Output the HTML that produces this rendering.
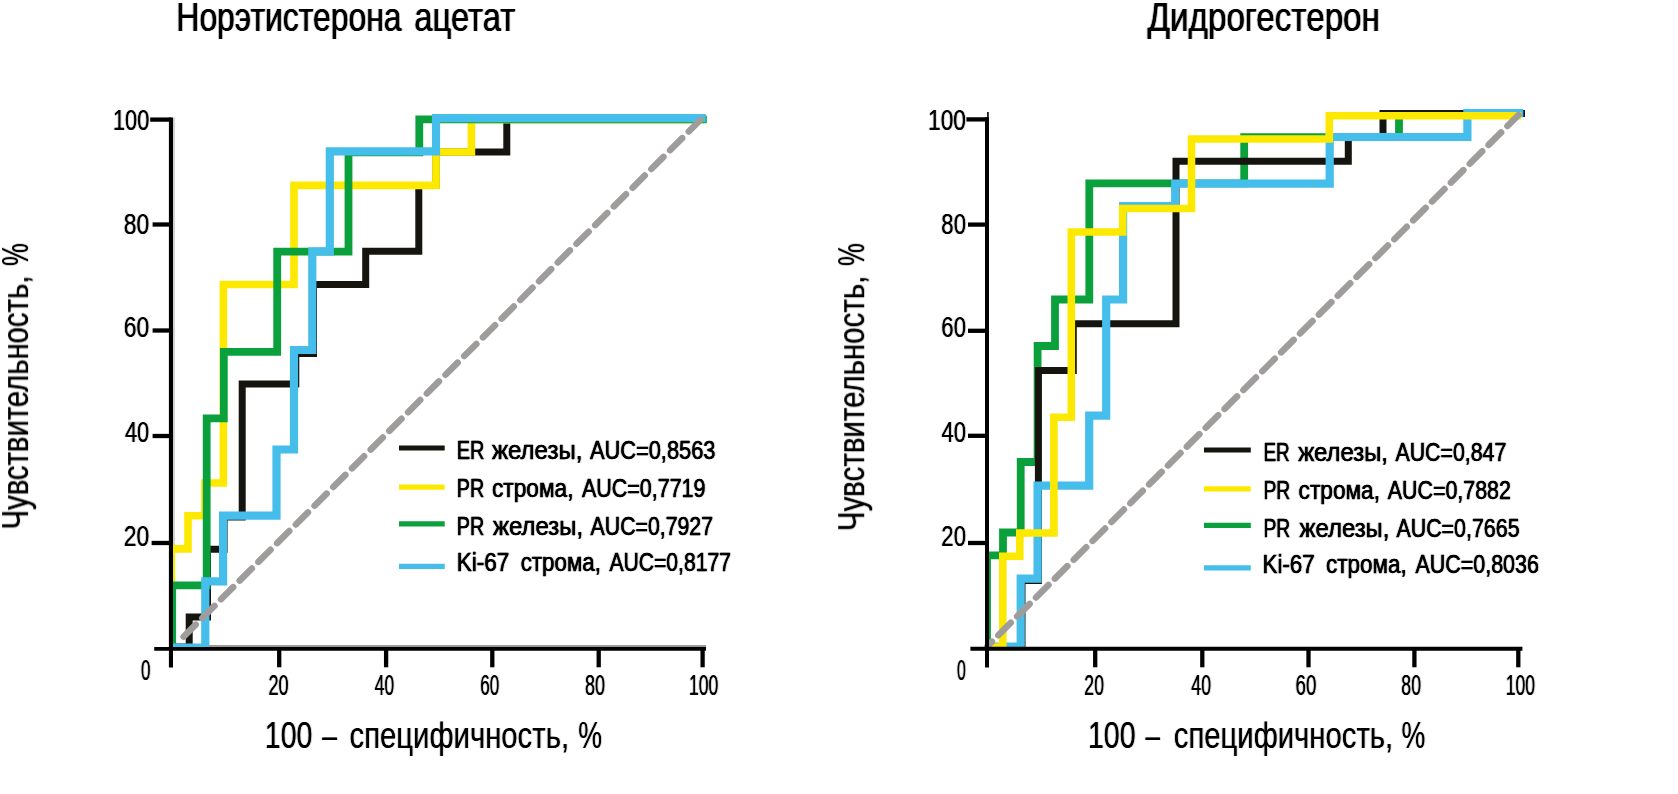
<!DOCTYPE html>
<html lang="ru"><head><meta charset="utf-8"><title>ROC</title>
<style>html,body{margin:0;padding:0;background:#fff}svg{display:block;will-change:transform}</style></head>
<body><svg width="1678" height="794" viewBox="0 0 1678 794">
<rect width="1678" height="794" fill="#fff"/>
<defs><filter id="fT" x="-25%" y="-20%" width="150%" height="140%"><feConvolveMatrix order="3 1" edgeMode="none" kernelMatrix="0.32 1 0.32" divisor="1" preserveAlpha="false"/></filter><filter id="fA" x="-25%" y="-20%" width="150%" height="140%"><feConvolveMatrix order="3 1" edgeMode="none" kernelMatrix="0.17 1 0.17" divisor="1" preserveAlpha="false"/></filter><filter id="fK" x="-25%" y="-20%" width="150%" height="140%"><feConvolveMatrix order="3 1" edgeMode="none" kernelMatrix="0.2 1 0.2" divisor="1" preserveAlpha="false"/></filter></defs>
<defs><clipPath id="cl"><rect x="171" y="100" width="560" height="549"/></clipPath><clipPath id="cr"><rect x="987" y="100" width="560" height="549"/></clipPath></defs>
<line x1="173" y1="645.95" x2="706" y2="645.95" stroke="#9c9a98" stroke-width="2.1" />
<line x1="174" y1="117.4" x2="174" y2="647" stroke="#d3d0d0" stroke-width="2.0" />
<g clip-path="url(#cl)">
<path d="M171.5,647 L189.2,647 L189.2,617 L207.5,617 L207.5,549.3 L224.1,549.3 L224.1,517 L242.2,517 L242.2,384 L295.8,384 L295.8,353.5 L313.5,353.5 L313.5,284.5 L365.7,284.5 L365.7,251.3 L418.8,251.3 L418.8,185.4 L436,185.4 L436,152 L506.8,152 L506.8,119 L704,119" fill="none" stroke="#15140f" stroke-width="7.0" stroke-linejoin="miter" />
<path d="M171.3,647 L171.3,548.9 L188,548.9 L188,515.7 L205,515.7 L205,483 L223.4,483 L223.4,284.5 L294,284.5 L294,185.4 L436,185.4 L436,152 L471.4,152 L471.4,119.8 L704,119.8" fill="none" stroke="#fde900" stroke-width="7.6" stroke-linejoin="miter" />
<path d="M172.2,647 L172.2,585.3 L206.7,585.3 L206.7,418.4 L223.8,418.4 L223.8,351.8 L277.2,351.8 L277.2,251.7 L348.5,251.7 L348.5,152.3 L419.3,152.3 L419.3,119.3 L706.8,119.3" fill="none" stroke="#0aa03c" stroke-width="7.8" stroke-linejoin="miter" />
<path d="M171.5,647.6 L205.3,647.6 L205.3,581.3 L223.1,581.3 L223.1,515.7 L276.5,515.7 L276.5,449.5 L294,449.5 L294,350 L312.3,350 L312.3,251.3 L329.8,251.3 L329.8,151.3 L436,151.3 L436,118.2 L705.7,118.2" fill="none" stroke="#45beeb" stroke-width="8.2" stroke-linejoin="miter" />
</g>
<line x1="178.6" y1="641.7" x2="700.5" y2="119.8" stroke="#9f9d9c" stroke-width="6.5" stroke-linecap="round" stroke-dasharray="17.16 9.30" stroke-dashoffset="19.42"/>
<line x1="170.95" y1="117.4" x2="170.95" y2="667.5" stroke="#000" stroke-width="4.1" />
<line x1="154.2" y1="648.85" x2="706" y2="648.85" stroke="#000" stroke-width="3.8" />
<line x1="150.2" y1="119.6" x2="171.1" y2="119.6" stroke="#000" stroke-width="4.3" />
<line x1="152.6" y1="224.5" x2="171.1" y2="224.5" stroke="#000" stroke-width="4.3" />
<line x1="152.6" y1="330.5" x2="171.1" y2="330.5" stroke="#000" stroke-width="4.3" />
<line x1="152.6" y1="436" x2="171.1" y2="436" stroke="#000" stroke-width="4.3" />
<line x1="151.6" y1="543" x2="171.1" y2="543" stroke="#000" stroke-width="4.3" />
<line x1="279.2" y1="648.5" x2="279.2" y2="667.3" stroke="#000" stroke-width="4.3" />
<line x1="386.1" y1="648.5" x2="386.1" y2="667.3" stroke="#000" stroke-width="4.3" />
<line x1="492.3" y1="648.5" x2="492.3" y2="667.3" stroke="#000" stroke-width="4.3" />
<line x1="598.7" y1="648.5" x2="598.7" y2="667.3" stroke="#000" stroke-width="4.3" />
<line x1="702.6" y1="648.5" x2="702.6" y2="667.3" stroke="#000" stroke-width="4.3" />
<g clip-path="url(#cr)">
<path d="M987,647 L987,555.4 L1003,555.4 L1003,532.5 L1020.7,532.5 L1020.7,462 L1037.6,462 L1037.6,346 L1055,346 L1055,299.5 L1089.3,299.5 L1089.3,183.4 L1244.2,183.4 L1244.2,137.1 L1399,137.1 L1399,114 L1521,114" fill="none" stroke="#0aa03c" stroke-width="7.8" stroke-linejoin="miter" />
<path d="M987,647 L1022,647 L1022,580.6 L1038.4,580.6 L1038.4,370.5 L1073.3,370.5 L1073.3,323.7 L1176,323.7 L1176,161.3 L1348.3,161.3 L1348.3,137 L1383,137 L1383,113.4 L1525,113.4" fill="none" stroke="#15140f" stroke-width="7.0" stroke-linejoin="miter" />
<path d="M987,646.5 L1020.7,646.5 L1020.7,578.6 L1037.6,578.6 L1037.6,485.6 L1089.2,485.6 L1089.2,415.6 L1106.2,415.6 L1106.2,299.5 L1123.1,299.5 L1123.1,206.2 L1175.2,206.2 L1175.2,183.6 L1329.7,183.6 L1329.7,137 L1467.4,137 L1467.4,113.2 L1523.3,113.2" fill="none" stroke="#45beeb" stroke-width="8.2" stroke-linejoin="miter" />
<path d="M987,647 L1002.8,647 L1002.8,556.3 L1019.8,556.3 L1019.8,533 L1053.9,533 L1053.9,417.3 L1071.3,417.3 L1071.3,232 L1122.7,232 L1122.7,208.5 L1191.5,208.5 L1191.5,139 L1329.3,139 L1329.3,115.8 L1521.4,115.8" fill="none" stroke="#fde900" stroke-width="7.6" stroke-linejoin="miter" />
</g>
<line x1="987.5" y1="646" x2="1518.5" y2="115" stroke="#9f9d9c" stroke-width="6.5" stroke-linecap="round" stroke-dasharray="17.67 9.00" stroke-dashoffset="11.42"/>
<line x1="987" y1="117.2" x2="987" y2="667.5" stroke="#000" stroke-width="4.0" />
<line x1="987.9" y1="111.9" x2="987.9" y2="118" stroke="#000" stroke-width="1.6" />
<line x1="970.4" y1="648.75" x2="1522.4" y2="648.75" stroke="#000" stroke-width="3.9" />
<line x1="966.4" y1="119.4" x2="987.2" y2="119.4" stroke="#000" stroke-width="4.3" />
<line x1="968" y1="224.6" x2="987.2" y2="224.6" stroke="#000" stroke-width="4.3" />
<line x1="968" y1="330.8" x2="987.2" y2="330.8" stroke="#000" stroke-width="4.3" />
<line x1="968" y1="435.8" x2="987.2" y2="435.8" stroke="#000" stroke-width="4.3" />
<line x1="968" y1="543" x2="987.2" y2="543" stroke="#000" stroke-width="4.3" />
<line x1="1095.2" y1="648.4" x2="1095.2" y2="667.3" stroke="#000" stroke-width="4.3" />
<line x1="1202.3" y1="648.4" x2="1202.3" y2="667.3" stroke="#000" stroke-width="4.3" />
<line x1="1308.5" y1="648.4" x2="1308.5" y2="667.3" stroke="#000" stroke-width="4.3" />
<line x1="1414.4" y1="648.4" x2="1414.4" y2="667.3" stroke="#000" stroke-width="4.3" />
<line x1="1518.3" y1="648.4" x2="1518.3" y2="667.3" stroke="#000" stroke-width="4.3" />
<line x1="399" y1="448" x2="444.7" y2="448" stroke="#15140f" stroke-width="5.2" />
<line x1="399" y1="487.2" x2="444.7" y2="487.2" stroke="#fde900" stroke-width="5.2" />
<line x1="399" y1="523.9" x2="444.7" y2="523.9" stroke="#0aa03c" stroke-width="5.2" />
<line x1="399" y1="566.3" x2="444.7" y2="566.3" stroke="#45beeb" stroke-width="5.2" />
<line x1="1204" y1="450" x2="1250.8" y2="450" stroke="#15140f" stroke-width="5.2" />
<line x1="1204" y1="488.8" x2="1250.8" y2="488.8" stroke="#fde900" stroke-width="5.2" />
<line x1="1204" y1="525.3" x2="1250.8" y2="525.3" stroke="#0aa03c" stroke-width="5.2" />
<line x1="1204" y1="567.9" x2="1250.8" y2="567.9" stroke="#45beeb" stroke-width="5.2" />
<g font-family='"Liberation Sans", sans-serif' fill="#000">
<text id="titleL1" x="176.37" y="31" font-size="40" textLength="225.14" lengthAdjust="spacingAndGlyphs" filter="url(#fT)">Норэтистерона</text>
<text id="titleL2" x="414.37" y="31" font-size="40" textLength="100.85" lengthAdjust="spacingAndGlyphs" filter="url(#fT)">ацетат</text>
<text id="titleR" x="1147.49" y="30.9" font-size="40" textLength="232.44" lengthAdjust="spacingAndGlyphs" filter="url(#fT)">Дидрогестерон</text>
<text id="yl100" x="112.94" y="129.6" font-size="28.6" textLength="36.35" lengthAdjust="spacingAndGlyphs" filter="url(#fK)">100</text>
<text id="yl80" x="123.86" y="233.8" font-size="28.6" textLength="25.49" lengthAdjust="spacingAndGlyphs" filter="url(#fK)">80</text>
<text id="yl60" x="123.84" y="337.3" font-size="28.6" textLength="25.49" lengthAdjust="spacingAndGlyphs" filter="url(#fK)">60</text>
<text id="yl40" x="124.96" y="441.5" font-size="28.6" textLength="24.34" lengthAdjust="spacingAndGlyphs" filter="url(#fK)">40</text>
<text id="yl20" x="123.84" y="545.5" font-size="28.6" textLength="25.49" lengthAdjust="spacingAndGlyphs" filter="url(#fK)">20</text>
<text id="yl0" x="140.98" y="679.7" font-size="28.6" textLength="9.46" lengthAdjust="spacingAndGlyphs" filter="url(#fK)">0</text>
<text id="xl20" x="268.39" y="694.6" font-size="28.6" textLength="20.12" lengthAdjust="spacingAndGlyphs" filter="url(#fK)">20</text>
<text id="xl40" x="374.83" y="694.6" font-size="28.6" textLength="19.28" lengthAdjust="spacingAndGlyphs" filter="url(#fK)">40</text>
<text id="xl60" x="480.36" y="694.6" font-size="28.6" textLength="18.95" lengthAdjust="spacingAndGlyphs" filter="url(#fK)">60</text>
<text id="xl80" x="585.05" y="694.6" font-size="28.6" textLength="20.06" lengthAdjust="spacingAndGlyphs" filter="url(#fK)">80</text>
<text id="xl100" x="689.03" y="694.6" font-size="28.6" textLength="29.30" lengthAdjust="spacingAndGlyphs" filter="url(#fK)">100</text>
<text id="yr100" x="928.07" y="129.5" font-size="28.6" textLength="37.87" lengthAdjust="spacingAndGlyphs" filter="url(#fK)">100</text>
<text id="yr80" x="941.34" y="233.8" font-size="28.6" textLength="24.62" lengthAdjust="spacingAndGlyphs" filter="url(#fK)">80</text>
<text id="yr60" x="941.34" y="337.3" font-size="28.6" textLength="24.62" lengthAdjust="spacingAndGlyphs" filter="url(#fK)">60</text>
<text id="yr40" x="941.38" y="441.5" font-size="28.6" textLength="24.57" lengthAdjust="spacingAndGlyphs" filter="url(#fK)">40</text>
<text id="yr20" x="941.34" y="545.5" font-size="28.6" textLength="24.62" lengthAdjust="spacingAndGlyphs" filter="url(#fK)">20</text>
<text id="yr0" x="957.01" y="679.8" font-size="28.6" textLength="8.83" lengthAdjust="spacingAndGlyphs" filter="url(#fK)">0</text>
<text id="xr20" x="1084.35" y="694.6" font-size="28.6" textLength="19.57" lengthAdjust="spacingAndGlyphs" filter="url(#fK)">20</text>
<text id="xr40" x="1191.35" y="694.6" font-size="28.6" textLength="19.68" lengthAdjust="spacingAndGlyphs" filter="url(#fK)">40</text>
<text id="xr60" x="1295.61" y="694.6" font-size="28.6" textLength="20.83" lengthAdjust="spacingAndGlyphs" filter="url(#fK)">60</text>
<text id="xr80" x="1401.32" y="694.6" font-size="28.6" textLength="19.68" lengthAdjust="spacingAndGlyphs" filter="url(#fK)">80</text>
<text id="xr100" x="1505.71" y="694.6" font-size="28.6" textLength="29.36" lengthAdjust="spacingAndGlyphs" filter="url(#fK)">100</text>
<text id="xa100L" x="264.84" y="747.6" font-size="36" textLength="47.56" lengthAdjust="spacingAndGlyphs" filter="url(#fA)">100</text>
<text id="xadashL" x="322.13" y="747.6" font-size="36" textLength="14.71" lengthAdjust="spacingAndGlyphs" filter="url(#fA)">–</text>
<text id="xawordL" x="349.58" y="747.6" font-size="36" textLength="219.46" lengthAdjust="spacingAndGlyphs" filter="url(#fA)">специфичность,</text>
<text id="xapctL" x="578.32" y="747.6" font-size="36" textLength="23.79" lengthAdjust="spacingAndGlyphs" filter="url(#fA)">%</text>
<text id="xa100R" x="1088.02" y="747.6" font-size="36" textLength="47.58" lengthAdjust="spacingAndGlyphs" filter="url(#fA)">100</text>
<text id="xadashR" x="1145.57" y="747.6" font-size="36" textLength="14.52" lengthAdjust="spacingAndGlyphs" filter="url(#fA)">–</text>
<text id="xawordR" x="1173.77" y="747.6" font-size="36" textLength="219.48" lengthAdjust="spacingAndGlyphs" filter="url(#fA)">специфичность,</text>
<text id="xapctR" x="1401.54" y="747.6" font-size="36" textLength="23.79" lengthAdjust="spacingAndGlyphs" filter="url(#fA)">%</text>
<text id="yaL1" transform="translate(28.1,529.43) rotate(-90)" font-size="36" textLength="253.77" lengthAdjust="spacingAndGlyphs" filter="url(#fA)">Чувствительность,</text>
<text id="yaL2" transform="translate(28.1,265.97) rotate(-90)" font-size="36" textLength="22.76" lengthAdjust="spacingAndGlyphs" filter="url(#fA)">%</text>
<text id="yaR1" transform="translate(864.2,531.14) rotate(-90)" font-size="36" textLength="255.48" lengthAdjust="spacingAndGlyphs" filter="url(#fA)">Чувствительность,</text>
<text id="yaR2" transform="translate(864.2,265.97) rotate(-90)" font-size="36" textLength="22.76" lengthAdjust="spacingAndGlyphs" filter="url(#fA)">%</text>
<text id="lgL0_0" x="456.66" y="459.4" font-size="26.5" textLength="27.71" lengthAdjust="spacingAndGlyphs" filter="url(#fK)" stroke="#000" stroke-width="0.4">ER</text>
<text id="lgL0_1" x="492.00" y="459.4" font-size="26.5" textLength="90.36" lengthAdjust="spacingAndGlyphs" filter="url(#fK)" stroke="#000" stroke-width="0.4">железы,</text>
<text id="lgL0_2" x="589.89" y="459.4" font-size="26.5" textLength="125.62" lengthAdjust="spacingAndGlyphs" filter="url(#fK)" stroke="#000" stroke-width="0.4">AUC=0,8563</text>
<text id="lgL1_0" x="456.76" y="496.9" font-size="26.5" textLength="27.41" lengthAdjust="spacingAndGlyphs" filter="url(#fK)" stroke="#000" stroke-width="0.4">PR</text>
<text id="lgL1_1" x="491.97" y="496.9" font-size="26.5" textLength="81.52" lengthAdjust="spacingAndGlyphs" filter="url(#fK)" stroke="#000" stroke-width="0.4">строма,</text>
<text id="lgL1_2" x="581.89" y="496.9" font-size="26.5" textLength="123.63" lengthAdjust="spacingAndGlyphs" filter="url(#fK)" stroke="#000" stroke-width="0.4">AUC=0,7719</text>
<text id="lgL2_0" x="456.76" y="534.6" font-size="26.5" textLength="27.41" lengthAdjust="spacingAndGlyphs" filter="url(#fK)" stroke="#000" stroke-width="0.4">PR</text>
<text id="lgL2_1" x="493.00" y="534.6" font-size="26.5" textLength="90.05" lengthAdjust="spacingAndGlyphs" filter="url(#fK)" stroke="#000" stroke-width="0.4">железы,</text>
<text id="lgL2_2" x="590.59" y="534.6" font-size="26.5" textLength="122.42" lengthAdjust="spacingAndGlyphs" filter="url(#fK)" stroke="#000" stroke-width="0.4">AUC=0,7927</text>
<text id="lgL3_0" x="456.77" y="571.4" font-size="26.5" textLength="52.52" lengthAdjust="spacingAndGlyphs" filter="url(#fK)" stroke="#000" stroke-width="0.4">Ki-67</text>
<text id="lgL3_1" x="520.65" y="571.4" font-size="26.5" textLength="80.32" lengthAdjust="spacingAndGlyphs" filter="url(#fK)" stroke="#000" stroke-width="0.4">строма,</text>
<text id="lgL3_2" x="609.38" y="571.4" font-size="26.5" textLength="121.53" lengthAdjust="spacingAndGlyphs" filter="url(#fK)" stroke="#000" stroke-width="0.4">AUC=0,8177</text>
<text id="lgR0_0" x="1263.44" y="461.4" font-size="26.5" textLength="26.21" lengthAdjust="spacingAndGlyphs" filter="url(#fK)" stroke="#000" stroke-width="0.4">ER</text>
<text id="lgR0_1" x="1298.17" y="461.4" font-size="26.5" textLength="89.78" lengthAdjust="spacingAndGlyphs" filter="url(#fK)" stroke="#000" stroke-width="0.4">железы,</text>
<text id="lgR0_2" x="1395.47" y="461.4" font-size="26.5" textLength="110.85" lengthAdjust="spacingAndGlyphs" filter="url(#fK)" stroke="#000" stroke-width="0.4">AUC=0,847</text>
<text id="lgR1_0" x="1263.49" y="498.8" font-size="26.5" textLength="26.76" lengthAdjust="spacingAndGlyphs" filter="url(#fK)" stroke="#000" stroke-width="0.4">PR</text>
<text id="lgR1_1" x="1298.55" y="498.8" font-size="26.5" textLength="81.49" lengthAdjust="spacingAndGlyphs" filter="url(#fK)" stroke="#000" stroke-width="0.4">строма,</text>
<text id="lgR1_2" x="1387.77" y="498.8" font-size="26.5" textLength="123.15" lengthAdjust="spacingAndGlyphs" filter="url(#fK)" stroke="#000" stroke-width="0.4">AUC=0,7882</text>
<text id="lgR2_0" x="1263.49" y="536.5" font-size="26.5" textLength="26.76" lengthAdjust="spacingAndGlyphs" filter="url(#fK)" stroke="#000" stroke-width="0.4">PR</text>
<text id="lgR2_1" x="1299.58" y="536.5" font-size="26.5" textLength="89.77" lengthAdjust="spacingAndGlyphs" filter="url(#fK)" stroke="#000" stroke-width="0.4">железы,</text>
<text id="lgR2_2" x="1396.47" y="536.5" font-size="26.5" textLength="123.06" lengthAdjust="spacingAndGlyphs" filter="url(#fK)" stroke="#000" stroke-width="0.4">AUC=0,7665</text>
<text id="lgR3_0" x="1262.52" y="573.3" font-size="26.5" textLength="52.15" lengthAdjust="spacingAndGlyphs" filter="url(#fK)" stroke="#000" stroke-width="0.4">Ki-67</text>
<text id="lgR3_1" x="1326.06" y="573.3" font-size="26.5" textLength="80.60" lengthAdjust="spacingAndGlyphs" filter="url(#fK)" stroke="#000" stroke-width="0.4">строма,</text>
<text id="lgR3_2" x="1415.39" y="573.3" font-size="26.5" textLength="123.52" lengthAdjust="spacingAndGlyphs" filter="url(#fK)" stroke="#000" stroke-width="0.4">AUC=0,8036</text>
</g>
</svg></body></html>
